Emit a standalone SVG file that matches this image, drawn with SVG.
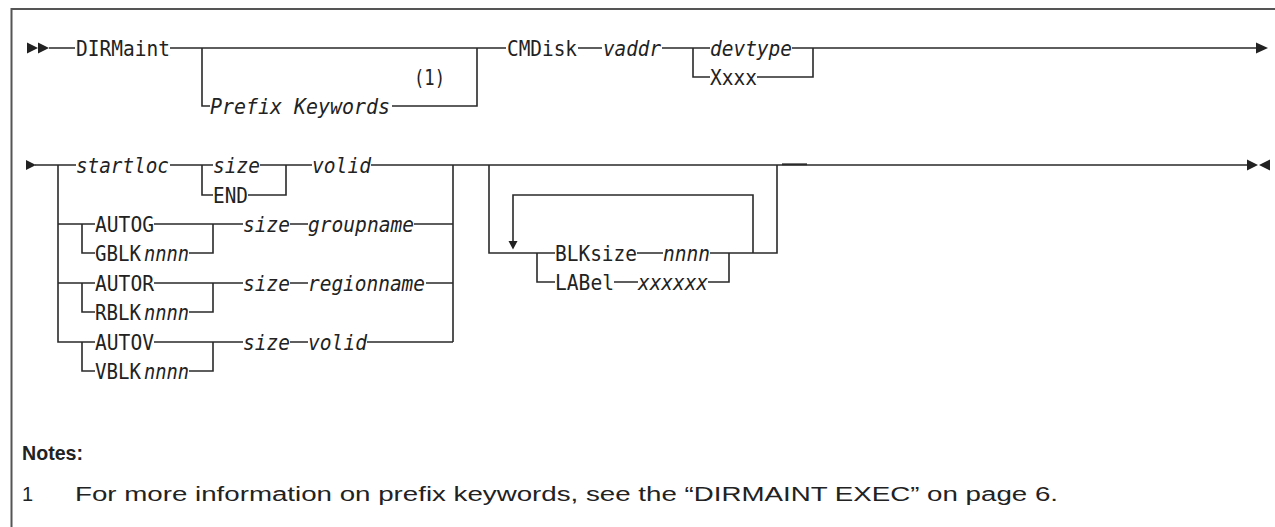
<svg xmlns="http://www.w3.org/2000/svg" width="1275" height="527" viewBox="0 0 1275 527">
<style>
.m{font-family:"DejaVu Sans Mono","Liberation Mono",monospace;font-size:22px;fill:#222;}
.i{font-style:italic;}
.c{fill:none;stroke:#2a2a2a;stroke-width:1.6;}
.a{fill:#222;stroke:none;}
.f{fill:none;stroke:#555;stroke-width:2;}
.n{font-family:"Liberation Sans",Arial,sans-serif;fill:#222;}
</style>
<rect width="1275" height="527" fill="#fff"/>
<path class="f" d="M11.5,527 V9 H1275"/>
<g id="connectors">
<path class="c" d="M49,48 H75 M170,48 H506 M202,48 V106 H210 M392,106 H477 V48 M578,48 H602 M662,48 H710 M693,48 V77 H710 M792,48 H1258 M757,77 H813 V48"/>
<polygon class="a" points="27,42.5 38,48 27,53.5"/>
<polygon class="a" points="38,42.5 49,48 38,53.5"/>
<polygon class="a" points="1256,42.5 1268,48 1256,53.5"/>
<path class="c" d="M35,165 H76 M58,165 V342 H95 M58,224 H95 M58,283 H95 M170,165 H213 M202,165 V195 H213 M260,165 H312 M248,195 H286 V165 M371,165 H1248
M82,224 V253 H95 M154,224 H243 M189,253 H213 V224 M290,224 H308 M414,224 H453
M82,283 V312 H95 M154,283 H243 M189,312 H213 V283 M290,283 H308 M426,283 H453
M82,342 V371 H95 M154,342 H243 M189,371 H213 V342 M290,342 H308 M367,342 H453
M453,165 V342
M489,165 V253 H555 M537,253 V282 H555 M637,253 H663 M710,253 H777 V165 M614,282 H638 M708,282 H729 V253
M753,253 V195 H513 V242"/>
<path d="M782,164.3 H807" stroke="#2a2a2a" stroke-width="1.9"/>
<polygon class="a" points="26,160 36,165 26,170"/>
<polygon class="a" points="508.5,241 517.5,241 513,249.5"/>
<polygon class="a" points="1247,159.5 1258,165 1247,170.5"/>
<polygon class="a" points="1270,159.5 1259,165 1270,170.5"/>
</g>
<g id="row1">
<text id="t-dirmaint" class="m" x="76" y="56" textLength="94" lengthAdjust="spacingAndGlyphs">DIRMaint</text>
<text id="t-prefix" class="m i" x="210" y="114" textLength="180" lengthAdjust="spacingAndGlyphs">Prefix Keywords</text>
<text id="t-note1" class="m" x="414" y="85" textLength="31" lengthAdjust="spacingAndGlyphs">(1)</text>
<text id="t-cmdisk" class="m" x="507" y="56" textLength="70" lengthAdjust="spacingAndGlyphs">CMDisk</text>
<text id="t-vaddr" class="m i" x="603" y="56" textLength="58" lengthAdjust="spacingAndGlyphs">vaddr</text>
<text id="t-devtype" class="m i" x="710" y="56" textLength="82" lengthAdjust="spacingAndGlyphs">devtype</text>
<text id="t-xxxx" class="m" x="710" y="85" textLength="47" lengthAdjust="spacingAndGlyphs">Xxxx</text>
</g>
<g id="row2">
<text id="t-startloc" class="m i" x="76" y="173" textLength="93" lengthAdjust="spacingAndGlyphs">startloc</text>
<text id="t-size1" class="m i" x="213" y="173" textLength="47" lengthAdjust="spacingAndGlyphs">size</text>
<text id="t-end" class="m" x="213" y="203" textLength="35" lengthAdjust="spacingAndGlyphs">END</text>
<text id="t-volid1" class="m i" x="312" y="173" textLength="59" lengthAdjust="spacingAndGlyphs">volid</text>
<text id="t-autog" class="m" x="95" y="232" textLength="59" lengthAdjust="spacingAndGlyphs">AUTOG</text>
<text class="m" x="95" y="261" textLength="46" lengthAdjust="spacingAndGlyphs">GBLK</text>
<text class="m i" x="144" y="261" textLength="45" lengthAdjust="spacingAndGlyphs">nnnn</text>
<text class="m i" x="243" y="232" textLength="47" lengthAdjust="spacingAndGlyphs">size</text>
<text class="m i" x="308" y="232" textLength="106" lengthAdjust="spacingAndGlyphs">groupname</text>
<text id="t-autor" class="m" x="95" y="291" textLength="59" lengthAdjust="spacingAndGlyphs">AUTOR</text>
<text class="m" x="95" y="320" textLength="46" lengthAdjust="spacingAndGlyphs">RBLK</text>
<text class="m i" x="144" y="320" textLength="45" lengthAdjust="spacingAndGlyphs">nnnn</text>
<text class="m i" x="243" y="291" textLength="47" lengthAdjust="spacingAndGlyphs">size</text>
<text class="m i" x="308" y="291" textLength="117" lengthAdjust="spacingAndGlyphs">regionname</text>
<text id="t-autov" class="m" x="95" y="350" textLength="59" lengthAdjust="spacingAndGlyphs">AUTOV</text>
<text class="m" x="95" y="379" textLength="46" lengthAdjust="spacingAndGlyphs">VBLK</text>
<text class="m i" x="144" y="379" textLength="45" lengthAdjust="spacingAndGlyphs">nnnn</text>
<text class="m i" x="243" y="350" textLength="47" lengthAdjust="spacingAndGlyphs">size</text>
<text class="m i" x="308" y="350" textLength="59" lengthAdjust="spacingAndGlyphs">volid</text>
</g>
<g id="repeat">
<text id="t-blksize" class="m" x="555" y="261" textLength="82" lengthAdjust="spacingAndGlyphs">BLKsize</text>
<text class="m i" x="663" y="261" textLength="47" lengthAdjust="spacingAndGlyphs">nnnn</text>
<text id="t-label" class="m" x="555" y="290" textLength="59" lengthAdjust="spacingAndGlyphs">LABel</text>
<text class="m i" x="638" y="290" textLength="70" lengthAdjust="spacingAndGlyphs">xxxxxx</text>
</g>
<g id="notes">
<text class="n" x="22" y="460" font-size="21" font-weight="bold" textLength="61" lengthAdjust="spacingAndGlyphs">Notes:</text>
<text class="n" x="22" y="501" font-size="20">1</text>
<text class="n" x="75" y="501" font-size="20" textLength="983" lengthAdjust="spacingAndGlyphs">For more information on prefix keywords, see the “DIRMAINT EXEC” on page 6.</text>
</g>
</svg>
